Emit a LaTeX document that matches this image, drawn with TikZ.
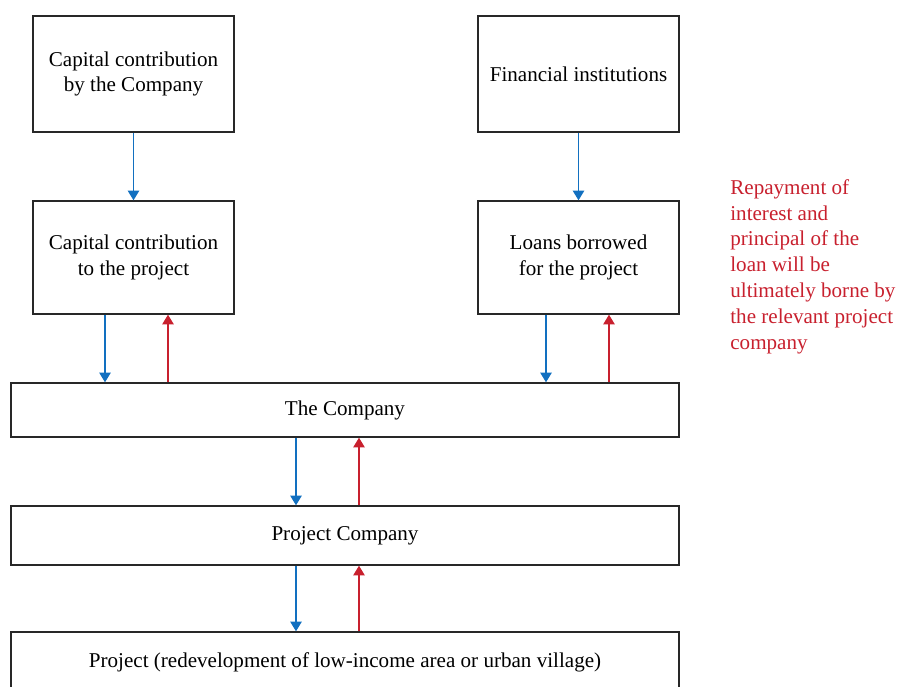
\documentclass[tikz,border=0pt]{standalone}
\usepackage{fontspec}
\setmainfont{Liberation Serif}
\usepackage{xcolor}
\usetikzlibrary{arrows.meta,positioning}
\definecolor{flowblue}{RGB}{18,112,192}
\definecolor{flowred}{RGB}{200,32,46}
\definecolor{boxgray}{RGB}{40,40,40}

\begin{document}
\begin{tikzpicture}[x=0.02cm, y=-0.02cm,
    every node/.style={font=\fontsize{12}{14.7}\selectfont},
    flowbox/.style={draw=boxgray, line width=0.8pt, align=center, inner sep=0pt},
    smallbox/.style={flowbox, minimum width=4.02cm, minimum height=2.32cm},
    widebox/.style={flowbox, minimum width=13.36cm},
    downarr/.style={flowblue, line width=0.7pt, -{Triangle[length=5.5pt,width=6.5pt]}},
    uparr/.style={flowred, line width=0.7pt, -{Triangle[length=5.5pt,width=6.5pt]}}]
  \useasboundingbox (0,0) rectangle (898,686);
  % ---- top row ----
  \node[smallbox] (capco) at (133.5,74) {Capital contribution\\by the Company};
  \node[smallbox] (fininst) at (578.5,74) {Financial institutions};
  % ---- second row ----
  \node[flowbox, minimum width=4.02cm, minimum height=2.26cm] (capproj) at (133.5,257.5) {Capital contribution\\to the project};
  \node[flowbox, minimum width=4.02cm, minimum height=2.26cm] (loans) at (578.5,257.5) {Loans borrowed\\for the project};
  % ---- wide boxes ----
  \node[widebox, minimum height=1.08cm] (company) at (345,410) {The Company};
  \node[widebox, minimum height=1.18cm] (projco) at (345,535.5) {Project Company};
  \node[widebox, minimum height=1.2cm] (project) at (345,662) {Project (redevelopment of low-income area or urban village)};
  % ---- note ----
  \node[flowred, anchor=north west, align=left, inner sep=0pt] (note) at (730,179)
    {Repayment of\\interest and\\principal of the\\loan will be\\ultimately borne by\\the relevant project\\company};
  % ---- arrows ----
  \draw[downarr] (capco) -- (capproj);
  \draw[downarr] (fininst) -- (loans);
  \draw[downarr] (capproj.south -| 105,0) -- (company.north -| 105,0);
  \draw[uparr] (company.north -| 168,0) -- (capproj.south -| 168,0);
  \draw[downarr] (loans.south -| 546,0) -- (company.north -| 546,0);
  \draw[uparr] (company.north -| 609,0) -- (loans.south -| 609,0);
  \draw[downarr] (company.south -| 296,0) -- (projco.north -| 296,0);
  \draw[uparr] (projco.north -| 359,0) -- (company.south -| 359,0);
  \draw[downarr] (projco.south -| 296,0) -- (project.north -| 296,0);
  \draw[uparr] (project.north -| 359,0) -- (projco.south -| 359,0);
\end{tikzpicture}
\end{document}
